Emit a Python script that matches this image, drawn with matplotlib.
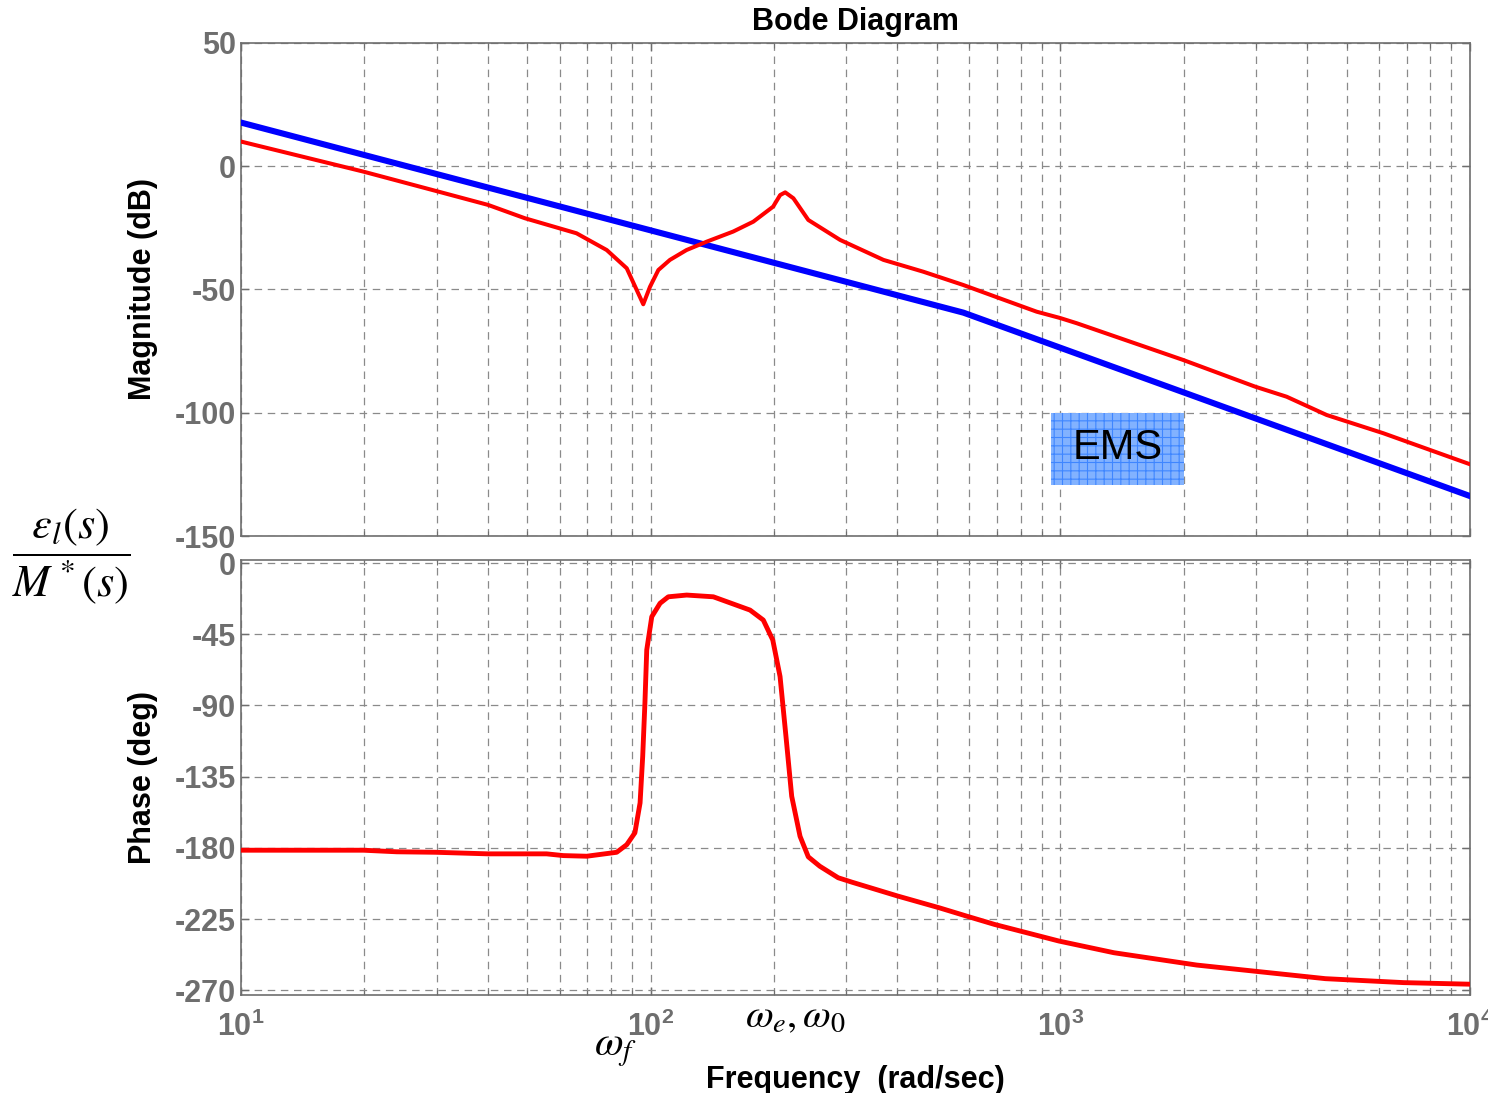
import numpy as np
import matplotlib
matplotlib.use("Agg")
import matplotlib.pyplot as plt
from matplotlib.patches import Rectangle
from matplotlib.ticker import LogLocator, NullFormatter

plt.rcParams['font.family'] = ['Liberation Sans', 'DejaVu Sans']
plt.rcParams['mathtext.fontset'] = 'custom'
plt.rcParams['mathtext.rm'] = 'Liberation Sans:bold'
plt.rcParams['mathtext.bf'] = 'Liberation Sans:bold'
plt.rcParams['mathtext.it'] = 'Liberation Sans:bold:italic'
plt.rcParams['hatch.linewidth'] = 0.8

# ---- data ----
mag_w = [10, 19.9, 29.7, 40.1, 49.3, 65.9, 78.1, 87.4, 95.9, 99.6, 104.4, 111.4,
         122.3, 137, 159, 178, 199, 207, 213, 223, 242.5, 290, 370, 463, 580,
         712, 875, 1000, 1097, 1995, 2987, 3568, 4466, 6140, 10000]
mag_red = [10.0, -2.2, -9.9, -15.7, -21.1, -27.2, -34.0, -41.4, -56.0, -48.9,
           -42.1, -38.0, -34.0, -30.6, -26.5, -22.5, -16.4, -11.7, -10.6, -13.0,
           -21.8, -29.9, -38.0, -42.8, -48.2, -53.6, -59.0, -61.6, -63.7, -78.6,
           -89.4, -93.5, -100.9, -108.3, -120.9]

ems_w = [10, 580, 10000]
ems_mag = [17.7, -59.4, -133.8]

ph_w = [10, 19.9, 24.0, 29.8, 40.1, 55.7, 61.2, 69.8, 82.6, 87.4, 91.5, 92.7,
        94.2, 95.6, 96.8, 97.8, 100.6, 105.4, 110.4, 122.4, 142.2, 174.8, 188.3,
        198.6, 206.9, 213.9, 220.9, 231.5, 242.5, 258.6, 286.8, 309.9, 401.2,
        506.3, 591.3, 690.5, 991.5, 1351, 2152, 4436, 6884, 10000]
ph_red = [-181.5, -181.5, -182.5, -182.8, -183.8, -183.8, -184.9, -185.3, -182.8,
          -178.0, -170.5, -162.0, -151.6, -122.2, -88.5, -54.9, -33.9, -25.4,
          -21.3, -20.2, -21.3, -29.7, -36.0, -48.6, -71.7, -109.6, -147.4,
          -172.7, -185.7, -191.6, -198.9, -201.7, -210.5, -217.9, -223.2,
          -228.4, -238.9, -246.3, -254.1, -262.7, -265.2, -266.2]

mag_ticks = [50, 0, -50, -100, -150]
ph_ticks = [0, -45, -90, -135, -180, -225, -270]
x_ticks = [10, 100, 1000, 10000]
x_labels = [r'$\mathbf{10^{1}}$', r'$\mathbf{10^{2}}$', r'$\mathbf{10^{3}}$', r'$\mathbf{10^{4}}$']

GRAY = '#6e6e6e'
GRID = '#8a8a8a'
FS = 22

fig = plt.figure(figsize=(14.88, 10.93), dpi=100, facecolor='white')
ax1 = fig.add_axes([0.1620, 0.5096, 0.8259, 0.4511])
ax2 = fig.add_axes([0.1620, 0.0897, 0.8259, 0.3980], sharex=ax1)

for ax in (ax1, ax2):
    ax.set_xscale('log')
    ax.set_xlim(10, 10000)
    ax.xaxis.set_minor_locator(LogLocator(base=10, subs=np.arange(2, 10), numticks=20))
    ax.xaxis.set_minor_formatter(NullFormatter())
    ax.grid(True, which='both', axis='x', color=GRID, lw=0.9, ls=(0, (6, 4.5)))
    ax.grid(True, which='major', axis='y', color=GRID, lw=0.9, ls=(0, (6, 4.5)))
    ax.tick_params(which='both', direction='in', top=True, right=True,
                   color=GRAY, labelcolor=GRAY)
    ax.tick_params(which='major', length=6, width=1.0)
    ax.tick_params(which='minor', length=3.5, width=0.8)
    for s in ax.spines.values():
        s.set_color(GRAY)
        s.set_linewidth(1.2)

# magnitude
ax1.plot(ems_w, ems_mag, color='#0000ff', lw=4.4, zorder=4)
ax1.plot(mag_w, mag_red, color='#ff0000', lw=2.9, zorder=5)
ax1.set_ylim(-150, 50)
ax1.set_yticks(mag_ticks, labels=[str(t) for t in mag_ticks],
               fontsize=FS, fontweight='bold')
ax1.tick_params(axis='x', labelbottom=False)
ax1.set_ylabel('Magnitude (dB)', fontsize=FS, fontweight='bold', labelpad=12)
ax1.set_title('Bode Diagram', fontsize=FS, fontweight='bold', pad=9)

box = Rectangle((950, -129.3), 2000 - 950, 29.2, facecolor='#82b2ff',
                edgecolor='#3f86ff', hatch='++', lw=0, zorder=3)
ax1.add_patch(box)
ax1.text(np.sqrt(950 * 2000), -114.5, 'EMS', fontsize=30, ha='center',
         va='center', color='black', zorder=6)

# phase
ax2.plot(ph_w, ph_red, color='#ff0000', lw=3.5, zorder=5)
ax2.set_ylim(-273, 2)
ax2.set_yticks(ph_ticks, labels=[str(t) for t in ph_ticks],
               fontsize=FS, fontweight='bold')
ax2.set_xticks(x_ticks)
ax2.set_xticklabels(x_labels, fontsize=FS)
ax2.tick_params(axis='x', which='major', pad=12)
ax2.set_ylabel('Phase (deg)', fontsize=FS, fontweight='bold', labelpad=12)
ax2.set_xlabel('Frequency  (rad/sec)', fontsize=FS, fontweight='bold', labelpad=16)

# annotations in Times-like math
fig.text(71 / 1488, 1 - 557 / 1093, r'$\dfrac{\varepsilon_l(s)}{M^*(s)}$',
         fontsize=32, math_fontfamily='stix', ha='center', va='center')
fig.text(594 / 1488, 1 - 1055 / 1093, r'$\omega_f$', fontsize=30,
         math_fontfamily='stix', ha='left', va='baseline')
fig.text(745 / 1488, 1 - 1027 / 1093, r'$\omega_e,\omega_0$', fontsize=29,
         math_fontfamily='stix', ha='left', va='baseline')

fig.savefig('out.png', dpi=100, facecolor='white')
